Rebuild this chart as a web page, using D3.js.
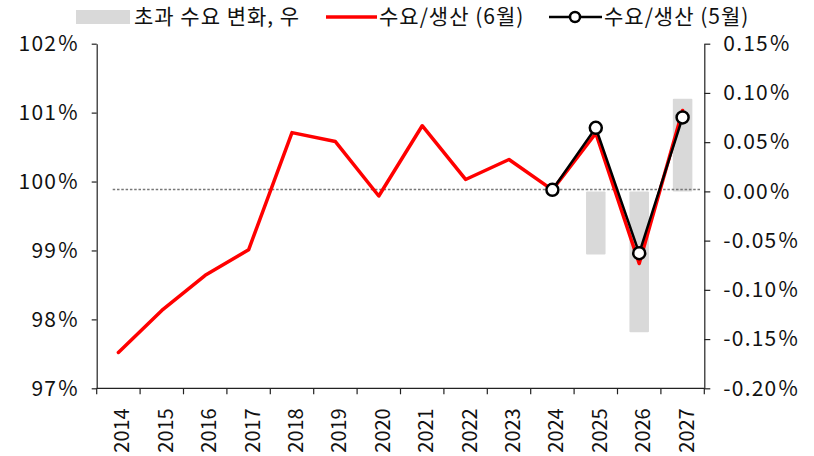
<!DOCTYPE html>
<html>
<head>
<meta charset="utf-8">
<script src="https://cdn.jsdelivr.net/npm/d3@7"></script>
<style>
  body { margin: 0; background: #fff; }
  text { font-family: "Noto Sans CJK KR", "Noto Sans", sans-serif; fill: #111; }
</style>
</head>
<body>
<script>
// data
var years = ["2014","2015","2016","2017","2018","2019","2020","2021","2022","2023","2024","2025","2026","2027"];
var june = [97.52, 98.13, 98.64, 99.01, 100.71, 100.58, 99.79, 100.81, 100.03, 100.32, 99.88, 100.70, 98.81, 101.03];
var mayYears = ["2024","2025","2026","2027"];
var may = [99.88, 100.78, 98.96, 100.93];
var barYears = ["2025","2026","2027"];
var barValues = [-0.064, -0.143, 0.094];
var leftTicks = [97, 98, 99, 100, 101, 102];
var rightTicks = [-0.20, -0.15, -0.10, -0.05, 0.00, 0.05, 0.10, 0.15];
var legendLabels = ["초과 수요 변화, 우", "수요/생산 (6월)", "수요/생산 (5월)"];

var margin = {top: 43.7, right: 109.7, bottom: 67.7, left: 96.7},
    width = 814 - margin.left - margin.right,
    height = 456 - margin.top - margin.bottom;

var svg = d3.select("body")
            .append("svg")
            .attr("width", 814)
            .attr("height", 456);

var g = svg.append("g")
           .attr("transform", "translate(" + margin.left + "," + margin.top + ")");

var x = d3.scaleBand().domain(years).range([0, width]);
var yL = d3.scaleLinear().domain([97, 102]).range([height, 0]);
var yR = d3.scaleLinear().domain([-0.20, 0.15]).range([height, 0]);

// bars (right axis)
var barW = x.bandwidth() * 0.45;
g.selectAll("rect.bar")
  .data(barYears.map(function(d, i) { return {year: d, v: barValues[i]}; }))
  .enter().append("rect")
  .attr("class", "bar")
  .attr("x", function(d) { return x(d.year) + (x.bandwidth() - barW) / 2; })
  .attr("y", function(d) { return yR(Math.max(0, d.v)); })
  .attr("width", barW)
  .attr("height", function(d) { return Math.abs(yR(d.v) - yR(0)); })
  .attr("rx", 1)
  .style("fill", "#d9d9d9");

// zero reference
g.append("line")
  .attr("x1", 16).attr("x2", width - 4)
  .attr("y1", yR(0) - 2).attr("y2", yR(0) - 2)
  .style("stroke", "#777")
  .style("stroke-width", 1.5)
  .style("stroke-dasharray", "2.5,1.8");

var line = d3.line()
  .x(function(d) { return x(d[0]) + x.bandwidth() / 2; })
  .y(function(d) { return yL(d[1]); });

g.append("path")
  .datum(years.map(function(d, i) { return [d, june[i]]; }))
  .attr("d", line)
  .style("fill", "none")
  .style("stroke", "#ff0000")
  .style("stroke-width", 3.5)
  .style("stroke-linejoin", "round")
  .style("stroke-linecap", "round");

var mayData = mayYears.map(function(d, i) { return [d, may[i]]; });
g.append("path")
  .datum(mayData)
  .attr("d", line)
  .style("fill", "none")
  .style("stroke", "#000")
  .style("stroke-width", 2.5);

g.selectAll("circle.may")
  .data(mayData)
  .enter().append("circle")
  .attr("class", "may")
  .attr("cx", function(d) { return x(d[0]) + x.bandwidth() / 2; })
  .attr("cy", function(d) { return yL(d[1]); })
  .attr("r", 6)
  .style("fill", "#fff")
  .style("stroke", "#000")
  .style("stroke-width", 2.5);

// axes
var left = g.append("g")
  .call(d3.axisLeft(yL).tickValues(leftTicks).tickSize(5).tickSizeOuter(0).tickPadding(13)
        .tickFormat(function(d) { return d; }));
var right = g.append("g")
  .attr("transform", "translate(" + width + ",0)")
  .call(d3.axisRight(yR).tickValues(rightTicks).tickSize(6).tickSizeOuter(0).tickPadding(13)
        .tickFormat(function(d) { return d.toFixed(2); }));

[left, right].forEach(function(a) {
  a.selectAll("text")
   .style("font-size", "21px").style("fill", "#111")
   .style("letter-spacing", "1.2px")
   .style("font-family", "\"Noto Sans CJK KR\", sans-serif")
   .append("tspan").attr("dx", 1).text("%");
  a.selectAll("line, path").style("stroke", "#222").style("stroke-width", 1.2);
});

// x axis: ticks at category boundaries
var bottom = g.append("g").attr("transform", "translate(0," + height + ")");
bottom.append("line")
  .attr("x1", 0).attr("x2", width)
  .style("stroke", "#222").style("stroke-width", 1.2);
var bounds = years.map(function(d) { return x(d); }).concat([x.range()[1]]);
bottom.selectAll("line.tick")
  .data(bounds)
  .enter().append("line")
  .attr("class", "tick")
  .attr("x1", function(d) { return d; }).attr("x2", function(d) { return d; })
  .attr("y1", 0).attr("y2", 6)
  .style("stroke", "#222").style("stroke-width", 1.2);
bottom.selectAll("text")
  .data(years)
  .enter().append("text")
  .attr("transform", function(d) {
    return "translate(" + (x(d) + x.bandwidth() / 2 + 4) + ",20) rotate(-90)";
  })
  .attr("dy", "0.35em")
  .attr("text-anchor", "end")
  .style("font-size", "20px")
  .text(function(d) { return d; });

// legend
var lg = svg.append("g").attr("class", "legend");
var ly = 17;
lg.append("rect")
  .attr("x", 76).attr("y", ly - 7).attr("width", 54).attr("height", 14)
  .style("fill", "#d9d9d9");
lg.append("text").attr("x", 134).attr("y", ly).attr("dy", "0.35em")
  .style("font-size", "21px").style("letter-spacing", "1px").text(legendLabels[0]);

lg.append("line")
  .attr("x1", 326).attr("x2", 377).attr("y1", ly).attr("y2", ly)
  .style("stroke", "#ff0000").style("stroke-width", 3.5);
lg.append("text").attr("x", 379).attr("y", ly).attr("dy", "0.35em")
  .style("font-size", "21px").style("letter-spacing", "1px").text(legendLabels[1]);

lg.append("line")
  .attr("x1", 549).attr("x2", 602).attr("y1", ly).attr("y2", ly)
  .style("stroke", "#000").style("stroke-width", 2.5);
lg.append("circle")
  .attr("cx", 575).attr("cy", ly).attr("r", 5)
  .style("fill", "#fff").style("stroke", "#000").style("stroke-width", 2.5);
lg.append("text").attr("x", 604).attr("y", ly).attr("dy", "0.35em")
  .style("font-size", "21px").style("letter-spacing", "1px").text(legendLabels[2]);
</script>
</body>
</html>
